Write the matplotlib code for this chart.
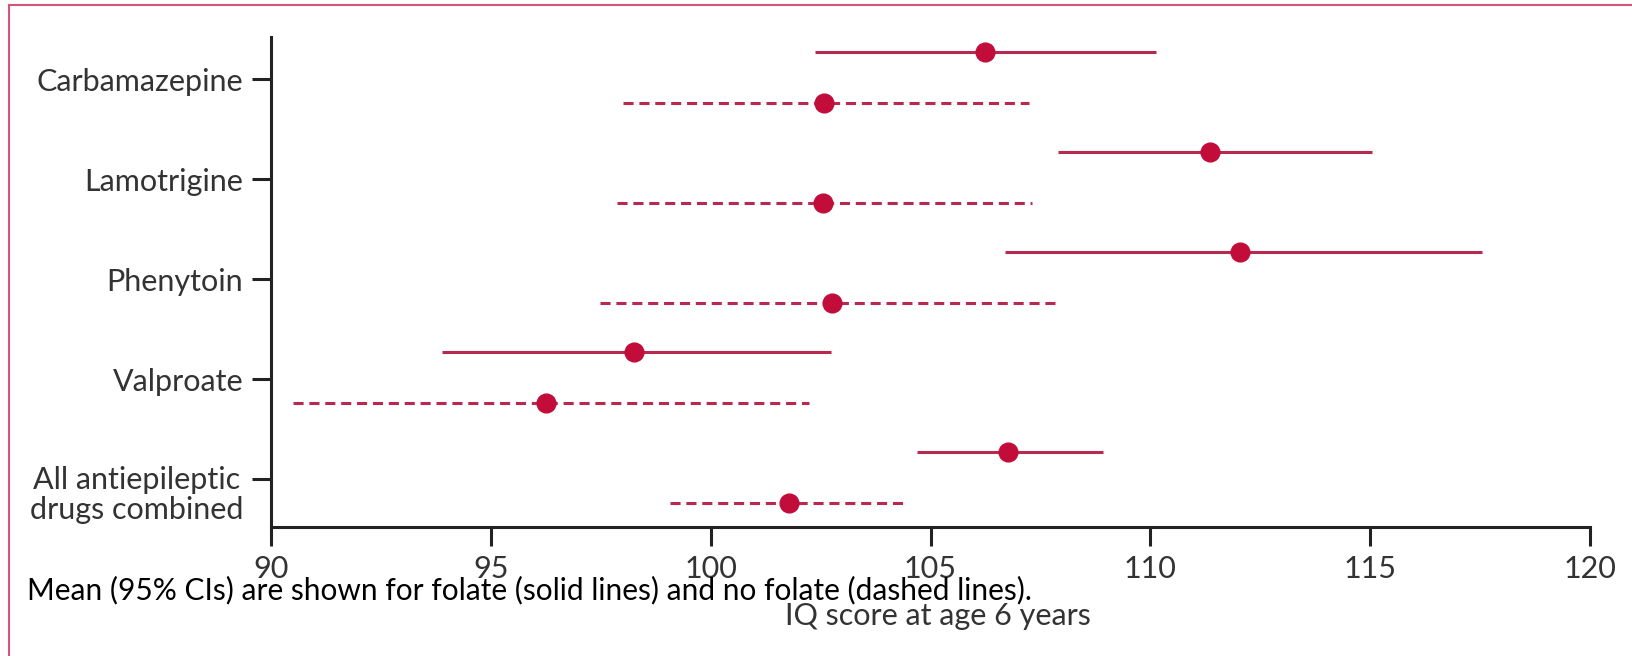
import matplotlib
matplotlib.use('Agg')
import matplotlib.pyplot as plt
import matplotlib.transforms as mtransforms
from matplotlib.lines import Line2D

drugs = ['Carbamazepine', 'Lamotrigine', 'Phenytoin', 'Valproate',
         'All antiepileptic\ndrugs combined']

# folate (solid lines)
folate_mean = [106.24, 111.36, 112.05, 98.26, 106.77]
folate_low = [102.38, 107.90, 106.69, 93.88, 104.70]
folate_high = [110.13, 115.05, 117.54, 102.74, 108.92]

# no folate (dashed lines)
nofolate_mean = [102.57, 102.55, 102.76, 96.25, 101.79]
nofolate_low = [98.00, 97.88, 97.48, 90.50, 99.07]
nofolate_high = [107.24, 107.31, 107.93, 102.24, 104.42]

xticks = [90, 95, 100, 105, 110, 115, 120]

dot_color = '#c20d3a'
line_color = '#b8294f'
text_color = '#333333'

fig = plt.figure(figsize=(16.32, 6.56), dpi=100)
ax = fig.add_axes([271 / 1632, 1 - 527 / 656, (1590 - 271) / 1632, (527 - 37) / 656])

n = len(drugs)
ypos = [n - 1 - i for i in range(n)]

for i, y in enumerate(ypos):
    ys = y + 0.27
    yd = y - 0.24
    ax.plot([folate_low[i], folate_high[i]], [ys, ys], color=line_color, lw=2.2,
            solid_capstyle='butt')
    ax.plot(folate_mean[i], ys, 'o', color=dot_color, ms=13.5)
    ax.plot([nofolate_low[i], nofolate_high[i]], [yd, yd], color=line_color, lw=2.2,
            dashes=(3.3, 1.9), dash_capstyle='butt')
    ax.plot(nofolate_mean[i], yd, 'o', color=dot_color, ms=13.5)

ax.set_xlim(90, 120)
ax.set_ylim(-0.48, 4.42)

for side in ['top', 'right']:
    ax.spines[side].set_visible(False)
for side in ['left', 'bottom']:
    ax.spines[side].set_linewidth(2.2)
    ax.spines[side].set_color('#222222')
ax.tick_params(axis='both', length=14, width=2.2, color='#222222')
ax.tick_params(axis='x', pad=6)
ax.tick_params(axis='y', pad=6)

ax.set_xticks(xticks)
ax.set_xticklabels([str(v) for v in xticks], fontsize=22, color=text_color,
                   family='Lato')
ax.set_yticks(ypos)
ax.set_yticklabels(drugs, fontsize=22, color=text_color, family='Lato',
                   multialignment='center', linespacing=1.1)

# the two-line label sits a little lower than its tick
last = ax.get_yticklabels()[-1]
last.set_transform(last.get_transform() +
                   mtransforms.ScaledTranslation(0, -0.12, fig.dpi_scale_trans))

fig.text(938 / 1632, 1 - 616 / 656, 'IQ score at age 6 years', fontsize=22,
         color=text_color, family='Lato', ha='center', va='center')
fig.text(27 / 1632, 1 - 599 / 656,
         'Mean (95% CIs) are shown for folate (solid lines) and no folate (dashed lines).',
         fontsize=21.5, color='black', family='Lato', ha='left', va='baseline')

# thin pink frame on left and top edge
fig.add_artist(Line2D([8.5 / 1632, 8.5 / 1632], [0, 1 - 5 / 656],
                      transform=fig.transFigure, color='#d2557a', lw=1.5))
fig.add_artist(Line2D([8.5 / 1632, 1], [1 - 5 / 656, 1 - 5 / 656],
                      transform=fig.transFigure, color='#d2557a', lw=1.5))

fig.savefig('out.png', dpi=100)
